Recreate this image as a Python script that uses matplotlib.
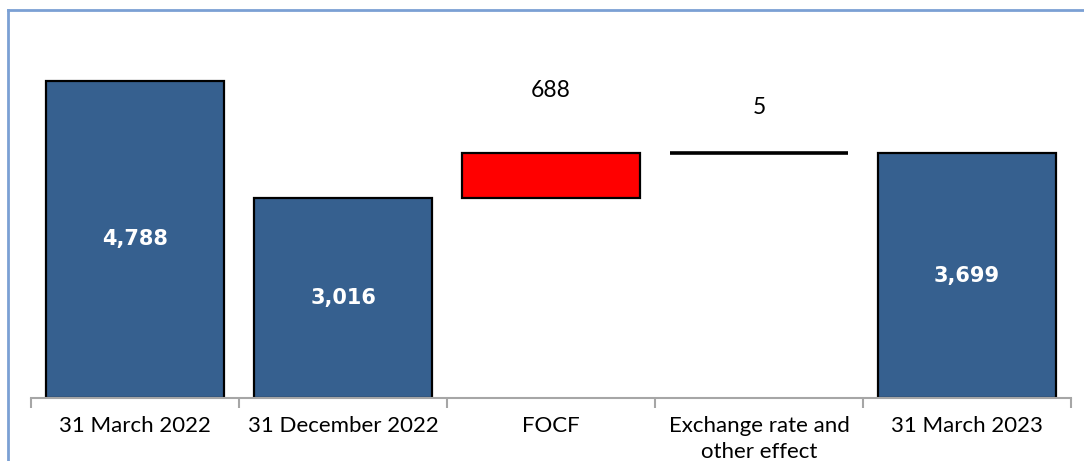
import matplotlib.pyplot as plt
from matplotlib.lines import Line2D

categories = ["31 March 2022", "31 December 2022", "FOCF",
              "Exchange rate and\nother effect", "31 March 2023"]
opening = [4788, 3016]
changes = [688, -5]
closing = 3699

fig = plt.figure(figsize=(10.84, 4.61), dpi=100)
ax = fig.add_axes([31 / 1084, 63 / 461, 1040 / 1084, 388 / 461])

blue = "#36608f"
x = list(range(len(categories)))
w = 0.86

# totals
ax.bar(x[0], opening[0], width=w, color=blue, edgecolor="black", linewidth=1.6)
ax.bar(x[1], opening[1], width=w, color=blue, edgecolor="black", linewidth=1.6)
ax.bar(x[4], closing, width=w, color=blue, edgecolor="black", linewidth=1.6)

# floating changes
running = opening[1]
fills = ["#ff0000", "black"]
widths = [1.6, 2.6]
for i, ch in enumerate(changes):
    bottom = running if ch >= 0 else running + ch
    ax.bar(x[2 + i], abs(ch), bottom=bottom, width=w, color=fills[i],
           edgecolor="black", linewidth=widths[i])
    running += ch

# labels
font = ["Lato", "DejaVu Sans"]
for xi, v in [(0, opening[0]), (1, opening[1]), (4, closing)]:
    ax.text(xi, v / 2, f"{v:,}", ha="center", va="center", color="white",
            fontsize=15, fontweight="bold")
ax.text(2, 4650, f"{abs(changes[0]):,}", ha="center", va="center",
        fontsize=16.5, family=font)
ax.text(3, 4380, f"{abs(changes[1]):,}", ha="center", va="center",
        fontsize=16.5, family=font)

ax.set_xlim(-0.5, 4.5)
ax.set_ylim(0, 5860)
ax.set_yticks([])
for s in ["top", "right", "left"]:
    ax.spines[s].set_visible(False)
ax.spines["bottom"].set_color("#a6a6a6")
ax.spines["bottom"].set_linewidth(1.5)
ax.set_xticks(x)
ax.set_xticklabels(categories, fontsize=16, family=font, linespacing=1.35)
ax.tick_params(axis="x", which="major", length=0, pad=13)
ax.set_xticks([i - 0.5 for i in range(len(categories) + 1)], minor=True)
ax.tick_params(axis="x", which="minor", length=7, width=1.5, color="#a6a6a6")

# outer frame (left and top edges visible)
frame_col = "#7ba0d4"
fig.add_artist(Line2D([7.5 / 1084, 7.5 / 1084], [0, 1 - 10 / 461],
                      color=frame_col, linewidth=2, transform=fig.transFigure))
fig.add_artist(Line2D([7.5 / 1084, 1], [1 - 10 / 461, 1 - 10 / 461],
                      color=frame_col, linewidth=2, transform=fig.transFigure))

fig.savefig("out.png", dpi=100)
